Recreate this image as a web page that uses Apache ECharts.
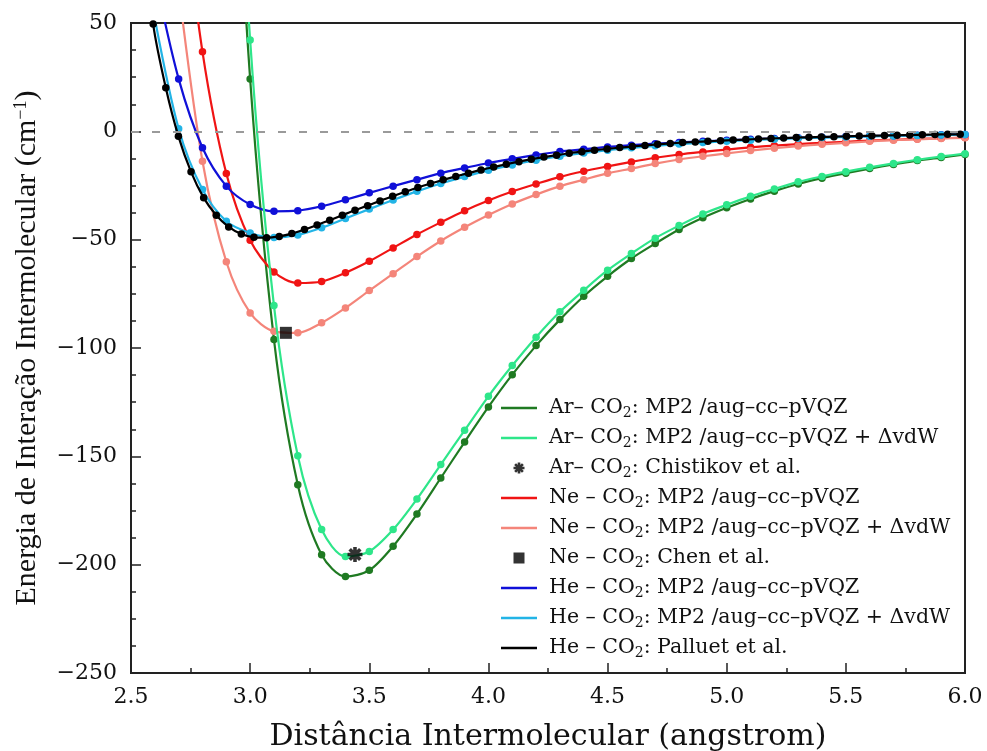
<!DOCTYPE html>
<html>
<head>
<meta charset="utf-8">
<script src="https://cdn.jsdelivr.net/npm/echarts@6/dist/echarts.min.js"></script>
<style>
  html, body { margin: 0; padding: 0; background: #fff; }
  #chart { width: 987px; height: 751px; }
</style>
</head>
<body>
<div id="chart"></div>
<script>
// Ar–CO2 interaction energies (cm^-1) versus intermolecular distance (Å)
const arR = [2.9, 3.0, 3.1, 3.2, 3.3, 3.4, 3.5, 3.6, 3.7, 3.8, 3.9, 4.0, 4.1, 4.2, 4.3, 4.4,
             4.5, 4.6, 4.7, 4.8, 4.9, 5.0, 5.1, 5.2, 5.3, 5.4, 5.5, 5.6, 5.7, 5.8, 5.9, 6.0];
const arMp2 = [215, 24.2, -96.1, -163.1, -195.4, -205.5, -202.6, -191.5, -176.6, -160.0, -143.4, -127.2,
               -112.3, -98.9, -86.9, -76.1, -66.9, -58.7, -51.8, -45.3, -39.9, -35.3, -31.2, -27.6,
               -24.3, -21.6, -19.3, -17.2, -15.3, -13.5, -12.1, -10.7];
const arVdw = [240, 42.1, -80.4, -149.7, -183.8, -196.2, -193.9, -183.8, -169.7, -153.8, -138.0, -122.3,
               -108.1, -95.0, -83.3, -73.4, -64.1, -56.4, -49.3, -43.5, -38.1, -33.9, -30.0, -26.6,
               -23.3, -20.8, -18.6, -16.6, -14.8, -13.1, -11.6, -10.3];
const arChistikov = [[3.44, -195.3]];

// Ne–CO2
const neR = [2.7, 2.8, 2.9, 3.0, 3.1, 3.2, 3.3, 3.4, 3.5, 3.6, 3.7, 3.8, 3.9, 4.0, 4.1, 4.2, 4.3,
             4.4, 4.5, 4.6, 4.7, 4.8, 4.9, 5.0, 5.1, 5.2, 5.3, 5.4, 5.5, 5.6, 5.7, 5.8, 5.9, 6.0];
const neMp2 = [125, 36.7, -19.5, -50.3, -64.9, -70.0, -69.3, -65.3, -60.0, -53.8, -47.6, -42.0, -36.6,
               -31.9, -27.8, -24.3, -21.0, -18.4, -16.2, -14.1, -12.2, -10.7, -9.5, -8.4, -7.4, -6.6,
               -5.9, -5.3, -4.8, -4.3, -3.9, -3.5, -3.2, -2.9];
const neVdw = [66, -13.8, -60.2, -83.8, -92.3, -93.0, -88.4, -81.5, -73.5, -65.7, -57.8, -50.6, -44.3,
               -38.6, -33.5, -29.2, -25.3, -22.3, -19.4, -17.2, -14.9, -13.0, -11.5, -10.2, -8.9, -7.8,
               -6.8, -6.0, -5.3, -4.6, -4.1, -3.7, -3.3, -3.0];
const neChen = [[3.15, -93.0]];

// He–CO2
const heR = [2.6, 2.7, 2.8, 2.9, 3.0, 3.1, 3.2, 3.3, 3.4, 3.5, 3.6, 3.7, 3.8, 3.9, 4.0, 4.1, 4.2, 4.3,
             4.4, 4.5, 4.6, 4.7, 4.8, 4.9, 5.0, 5.1, 5.2, 5.3, 5.4, 5.5, 5.6, 5.7, 5.8, 5.9, 6.0];
const heMp2 = [72, 24.2, -7.6, -25.3, -33.8, -36.9, -36.6, -34.6, -31.6, -28.4, -25.3, -22.3, -19.3,
               -16.9, -14.6, -12.7, -10.9, -9.3, -8.3, -7.2, -6.4, -5.7, -5.1, -4.6, -4.1, -3.7, -3.3,
               -3.0, -2.7, -2.4, -2.2, -2.0, -1.8, -1.6, -1.5];
const heVdw = [52, 1.2, -26.9, -41.5, -46.9, -49.0, -47.8, -44.5, -40.2, -35.9, -31.7, -27.7, -24.1,
               -20.9, -18.0, -15.5, -13.3, -11.5, -10.0, -8.7, -7.6, -6.7, -5.9, -5.2, -4.6, -4.1, -3.6,
               -3.2, -2.9, -2.6, -2.3, -2.1, -1.9, -1.7, -1.5];

// Palluet et al. reference potential (grid of 0.1 bohr, given here in Å)
const palluetR = [2.540, 2.593, 2.646, 2.699, 2.752, 2.805, 2.858, 2.910, 2.963, 3.016, 3.069, 3.122,
                  3.175, 3.228, 3.281, 3.334, 3.387, 3.440, 3.493, 3.545, 3.598, 3.651, 3.704, 3.757,
                  3.810, 3.863, 3.916, 3.969, 4.022, 4.075, 4.128, 4.180, 4.233, 4.286, 4.339, 4.392,
                  4.445, 4.498, 4.551, 4.604, 4.657, 4.710, 4.763, 4.815, 4.868, 4.921, 4.974, 5.027,
                  5.080, 5.133, 5.186, 5.239, 5.292, 5.345, 5.397, 5.450, 5.503, 5.556, 5.609, 5.662,
                  5.715, 5.768, 5.821, 5.874, 5.927, 5.980];
const palluetE = [105, 49.5, 20.1, -2.3, -18.7, -30.7, -38.7, -44.1, -47.4, -48.9, -49.1, -48.5,
                  -47.2, -45.3, -43.2, -41.0, -38.7, -36.4, -34.3, -32.1, -30.0, -27.9, -25.9, -24.1,
                  -22.4, -20.8, -19.3, -17.8, -16.5, -15.2, -14.0, -12.9, -11.9, -11.0, -10.1, -9.4,
                  -8.7, -8.1, -7.5, -7.0, -6.5, -6.0, -5.6, -5.2, -4.9, -4.6, -4.3, -4.0,
                  -3.8, -3.5, -3.3, -3.1, -2.9, -2.75, -2.6, -2.45, -2.3, -2.15, -2.0, -1.9,
                  -1.8, -1.7, -1.6, -1.5, -1.4, -1.35];

// Axis ticks
const xTicks = { min: 2.5, max: 6.0, step: 0.5 };
const yTicks = { min: -250, max: 50, step: 50 };

const SERIF = '"DejaVu Serif", serif';
const TIMES = '"Liberation Serif", serif';
const INK = '#111';

// Legend icons
const lineIcon = 'path://M0,0 L36,0 L36,2.4 L0,2.4 Z';
const squareIcon = 'path://M0,0 L1,0 L1,1 L0,1 Z';
function asteriskPath() {
  // four bars through the centre: 0°, 45°, 90°, 135°
  const L = 10, W = 2.4;
  let d = '';
  for (let k = 0; k < 4; k++) {
    const a = k * Math.PI / 4;
    const c = Math.cos(a), s = Math.sin(a);
    const pts = [[-L, -W], [L, -W], [L, W], [-L, W]].map(([x, y]) =>
      [(x * c - y * s).toFixed(3), (x * s + y * c).toFixed(3)]);
    d += 'M' + pts.map(p => p.join(',')).join(' L') + ' Z ';
  }
  return 'path://' + d;
}
const asteriskIcon = asteriskPath();

function curve(name, r, e, color, z) {
  return {
    type: 'line', name: name,
    data: r.map((x, i) => [x, e[i]]),
    smooth: 0.3,
    symbol: 'circle', symbolSize: 7.5, showSymbol: true,
    lineStyle: { color: color, width: 2.2 },
    itemStyle: { color: color },
    clip: true, z: z,
    emphasis: { disabled: true }
  };
}
function points(name, d, symbol, size) {
  return {
    type: 'scatter', name: name, data: d,
    symbol: symbol, symbolSize: size,
    itemStyle: { color: '#000' },
    z: 10, emphasis: { disabled: true }
  };
}

const names = {
  arMp2: 'Ar– CO2: MP2 /aug–cc–pVQZ',
  arVdw: 'Ar– CO2: MP2 /aug–cc–pVQZ + ΔvdW',
  arRef: 'Ar– CO2: Chistikov et al.',
  neMp2: 'Ne – CO2: MP2 /aug–cc–pVQZ',
  neVdw: 'Ne – CO2: MP2 /aug–cc–pVQZ + ΔvdW',
  neRef: 'Ne – CO2: Chen et al.',
  heMp2: 'He – CO2: MP2 /aug–cc–pVQZ',
  heVdw: 'He – CO2: MP2 /aug–cc–pVQZ + ΔvdW',
  heRef: 'He – CO2: Palluet et al.'
};

const colors = {
  arMp2: '#1f7a22', arVdw: '#2ee68a',
  neMp2: '#f01414', neVdw: '#f4857a',
  heMp2: '#1010d8', heVdw: '#22b4e6', heRef: '#000000'
};

const zeroLine = {
  type: 'line', data: [], silent: true, z: 1,
  markLine: {
    silent: true, symbol: ['none', 'none'], label: { show: false },
    lineStyle: { color: '#9a9a9a', type: [8, 13], width: 2 },
    data: [{ yAxis: 0 }]
  }
};

const series = [
  zeroLine,
  curve(names.arMp2, arR, arMp2, colors.arMp2, 2),
  curve(names.arVdw, arR, arVdw, colors.arVdw, 3),
  points(names.arRef, arChistikov, asteriskIcon, 15),
  curve(names.neMp2, neR, neMp2, colors.neMp2, 2),
  curve(names.neVdw, neR, neVdw, colors.neVdw, 2),
  points(names.neRef, neChen, 'rect', 12),
  curve(names.heMp2, heR, heMp2, colors.heMp2, 2),
  curve(names.heVdw, heR, heVdw, colors.heVdw, 3),
  curve(names.heRef, palluetR, palluetE, colors.heRef, 4)
];

const legendData = [
  { name: names.arMp2, icon: lineIcon },
  { name: names.arVdw, icon: lineIcon },
  { name: names.arRef, icon: asteriskIcon },
  { name: names.neMp2, icon: lineIcon },
  { name: names.neVdw, icon: lineIcon },
  { name: names.neRef, icon: squareIcon },
  { name: names.heMp2, icon: lineIcon },
  { name: names.heVdw, icon: lineIcon },
  { name: names.heRef, icon: lineIcon }
];

const minus = v => (v < 0 ? '\u2212' + Math.abs(v) : String(v));

const chart = echarts.init(document.getElementById('chart'), null, { renderer: 'canvas' });
chart.setOption({
  animation: false,
  backgroundColor: '#fff',
  grid: {
    left: 131, right: 22, top: 23, bottom: 78,
    outerBoundsMode: 'none', containLabel: false,
    show: true, borderColor: '#222', borderWidth: 2, backgroundColor: 'transparent'
  },
  legend: {
    orient: 'vertical', left: 496, top: 391,
    itemWidth: 36, itemHeight: 11, itemGap: 6,
    selectedMode: false,
    data: legendData,
    formatter: function (name) {
      const parts = name.split('CO2');
      return '{g| }{t|' + parts[0] + 'CO}{s|2}{t|' + parts[1] + '}';
    },
    textStyle: {
      fontFamily: SERIF, fontSize: 20, color: INK,
      rich: {
        g: { width: 7 },
        t: { fontFamily: SERIF, fontSize: 20.5, color: INK, lineHeight: 24 },
        s: { fontFamily: SERIF, fontSize: 14, color: INK, lineHeight: 14, padding: [10, 0, 0, 0] }
      }
    }
  },
  xAxis: {
    type: 'value', min: xTicks.min, max: xTicks.max, interval: xTicks.step,
    name: 'Distância Intermolecular (angstrom)',
    nameLocation: 'middle', nameGap: 49,
    nameTextStyle: { fontFamily: SERIF, fontSize: 30, color: INK },
    axisLine: { show: true, onZero: false, lineStyle: { color: '#222', width: 2 } },
    axisTick: { show: true, inside: true, length: 10, lineStyle: { color: '#222', width: 1.5 } },
    minorTick: { show: true, splitNumber: 2, length: 5, lineStyle: { color: '#222', width: 1.5 } },
    splitLine: { show: false },
    axisLabel: {
      fontFamily: SERIF, fontSize: 22, color: INK, margin: 13,
      formatter: v => v.toFixed(1)
    }
  },
  yAxis: {
    type: 'value', min: yTicks.min, max: yTicks.max, interval: yTicks.step,
    name: '{n|Energia de Interação Intermolecular (cm}{p|\u22121}{n|)}',
    nameLocation: 'middle', nameGap: 88,
    nameTextStyle: {
      fontFamily: TIMES, fontSize: 30, color: INK,
      rich: {
        n: { fontFamily: TIMES, fontSize: 30, color: INK },
        p: { fontFamily: TIMES, fontSize: 18, color: INK, padding: [0, 0, 13, 0] }
      }
    },
    axisLine: { show: true, onZero: false, lineStyle: { color: '#222', width: 2 } },
    axisTick: { show: true, inside: true, length: 10, lineStyle: { color: '#222', width: 1.5 } },
    minorTick: { show: true, splitNumber: 4, length: 5, lineStyle: { color: '#222', width: 1.5 } },
    splitLine: { show: false },
    axisLabel: {
      fontFamily: SERIF, fontSize: 22, color: INK, margin: 14,
      formatter: minus
    }
  },
  series: series
});
</script>
</body>
</html>
